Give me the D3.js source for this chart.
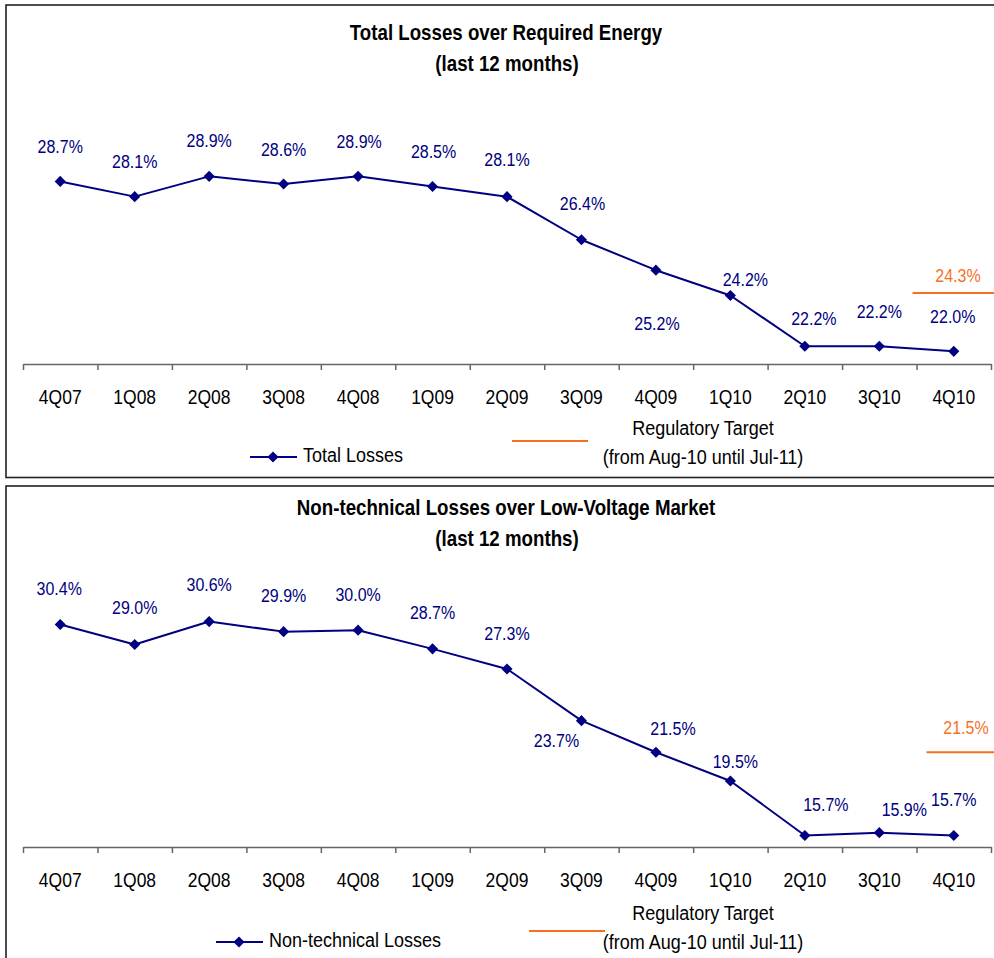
<!DOCTYPE html>
<html>
<head>
<meta charset="utf-8">
<script src="https://cdn.jsdelivr.net/npm/d3@7"></script>
<style>
  html, body { margin: 0; padding: 0; background: #fff; }
  svg { display: block; }
</style>
</head>
<body>
<svg id="chart" width="994" height="958"></svg>
<script>
// ---- data ----
const quarters = ["4Q07", "1Q08", "2Q08", "3Q08", "4Q08", "1Q09", "2Q09", "3Q09", "4Q09", "1Q10", "2Q10", "3Q10", "4Q10"];

const totalLosses = [28.7, 28.1, 28.9, 28.6, 28.9, 28.5, 28.1, 26.4, 25.2, 24.2, 22.2, 22.2, 22.0];
const totalTarget = 24.3;

const nonTechnicalLosses = [30.4, 29.0, 30.6, 29.9, 30.0, 28.7, 27.3, 23.7, 21.5, 19.5, 15.7, 15.9, 15.7];
const nonTechnicalTarget = 21.5;

const totalTitle = ["Total Losses over Required Energy", "(last 12 months)"];
const nonTechnicalTitle = ["Non-technical Losses over Low-Voltage Market", "(last 12 months)"];
const targetLegend = ["Regulatory Target", "(from Aug-10 until Jul-11)"];

// ---- label placement (offset of each value label from its marker) ----
const totalLabelOffsets = [[0, -35], [0, -35], [0, -36], [0, -35], [1, -35], [1, -35], [0, -37],
                           [1, -36], [1, 53], [15, -16], [9, -28], [0, -35], [-1, -35]];
const nonTechnicalLabelOffsets = [[-1, -36], [0, -37], [0, -37], [0, -36], [0, -36], [0, -36], [0, -36],
                                  [-25, 20], [17, -24], [5, -20], [21, -31], [25, -23], [0, -36]];

// ---- styles ----
const FONT = "'Liberation Sans', Arial, Helvetica, sans-serif";
const STRETCH = 1.14;          // glyphs are drawn slightly taller than wide
const NAVY = "#000080";
const ORANGE = "#F7701F";
const AXIS = "#666";

const svg = d3.select("#chart").style("font-family", FONT);
const fmt = d => d.toFixed(1) + "%";

function putText(g, x, y, text, opt = {}) {
  return g.append("text")
    .attr("transform", `translate(${x},${y}) scale(1,${STRETCH})`)
    .attr("dy", "0.36em")
    .attr("text-anchor", opt.anchor || "middle")
    .attr("font-size", opt.size || 16)
    .attr("font-weight", opt.weight || "normal")
    .attr("fill", opt.fill || "#000")
    .text(text);
}

function diamond(g, x, y) {
  g.append("path")
    .attr("d", d3.symbol(d3.symbolSquare, 62)())
    .attr("transform", `translate(${x},${y}) rotate(45)`)
    .attr("fill", NAVY);
}

function drawPanel(cfg) {
  const g = svg.append("g");

  // frame
  g.append("rect")
    .attr("x", 6).attr("y", cfg.top)
    .attr("width", 1010).attr("height", cfg.frameHeight)
    .attr("fill", "none").attr("stroke", "#222").attr("stroke-width", 1.6);

  // title
  putText(g, 506, cfg.titleY[0], cfg.title[0], { size: 18.7, weight: "bold" });
  putText(g, 507, cfg.titleY[1], cfg.title[1], { size: 18.7, weight: "bold" });

  const x = d3.scaleBand().domain(quarters).range([23, 991]).paddingInner(0).paddingOuter(0);
  const xEdge = d3.scaleLinear().domain([0, quarters.length]).range(x.range());
  const y = d3.scaleLinear().domain(cfg.domain).range(cfg.yRange);
  const cx = q => x(q) + x.bandwidth() / 2;

  // category axis: baseline with ticks between categories
  const axisG = g.append("g")
    .attr("transform", `translate(0,${cfg.yRange[0]})`)
    .call(d3.axisBottom(xEdge)
      .tickValues(d3.range(quarters.length + 1))
      .tickFormat("")
      .tickSize(6)
      .tickSizeOuter(0));
  axisG.select(".domain").attr("stroke", AXIS).attr("stroke-width", 1.5);
  axisG.selectAll(".tick line").attr("stroke", AXIS).attr("stroke-width", 1.5);

  // category labels centred under each band
  const labG = g.append("g")
    .attr("transform", `translate(0,${cfg.yRange[0]})`)
    .call(d3.axisBottom(x).tickSize(0).tickPadding(0));
  labG.select(".domain").remove();
  labG.selectAll(".tick text")
    .attr("y", 0)
    .attr("dy", "0.36em")
    .attr("transform", `translate(0,33) scale(1,${STRETCH})`)
    .attr("font-family", FONT)
    .attr("font-size", 17.5)
    .attr("fill", "#000");

  // series line
  const line = d3.line().x((d, i) => cx(quarters[i])).y(d => y(d));
  g.append("path")
    .datum(cfg.values)
    .attr("d", line)
    .attr("fill", "none")
    .attr("stroke", NAVY)
    .attr("stroke-width", 2)
    .attr("stroke-linejoin", "round");

  cfg.values.forEach((v, i) => diamond(g, cx(quarters[i]), y(v)));

  // value labels
  cfg.values.forEach((v, i) => {
    const [dx, dy] = cfg.offsets[i];
    putText(g, cx(quarters[i]) + dx, y(v) + dy, fmt(v), { size: 16, fill: NAVY });
  });

  // regulatory target segment over the last category
  const ty = y(cfg.target);
  g.append("line")
    .attr("x1", x(quarters[quarters.length - 1]) + cfg.targetStart).attr("x2", 1000)
    .attr("y1", ty).attr("y2", ty)
    .attr("stroke", ORANGE).attr("stroke-width", 2);
  putText(g, cfg.targetLabel[0], ty + cfg.targetLabel[1], fmt(cfg.target), { size: 16, fill: ORANGE });

  // legend
  const L = cfg.legend;
  g.append("line")
    .attr("x1", L.seriesX).attr("x2", L.seriesX + 47)
    .attr("y1", L.seriesY).attr("y2", L.seriesY)
    .attr("stroke", NAVY).attr("stroke-width", 2);
  diamond(g, L.seriesX + 23, L.seriesY);
  putText(g, L.seriesX + 53, L.seriesY - 2, cfg.seriesName, { size: 18, anchor: "start" });

  g.append("line")
    .attr("x1", L.targetX).attr("x2", L.targetX + 76)
    .attr("y1", L.targetY).attr("y2", L.targetY)
    .attr("stroke", ORANGE).attr("stroke-width", 2);
  putText(g, 703, L.textY[0], targetLegend[0], { size: 18 });
  putText(g, 703, L.textY[1], targetLegend[1], { size: 18 });
}

drawPanel({
  top: 5, frameHeight: 472.5,
  title: totalTitle, titleY: [32, 63],
  values: totalLosses, offsets: totalLabelOffsets,
  domain: [21.5, 32.7], yRange: [364, 80],
  target: totalTarget, targetStart: -4, targetLabel: [958, -18],
  seriesName: "Total Losses",
  legend: { seriesX: 250, seriesY: 457, targetX: 512, targetY: 441, textY: [428, 457] }
});

drawPanel({
  top: 486, frameHeight: 500,
  title: nonTechnicalTitle, titleY: [507, 538],
  values: nonTechnicalLosses, offsets: nonTechnicalLabelOffsets,
  domain: [14.9, 35], yRange: [847, 558.4],
  target: nonTechnicalTarget, targetStart: 10, targetLabel: [966, -25],
  seriesName: "Non-technical Losses",
  legend: { seriesX: 216, seriesY: 942, targetX: 529, targetY: 931, textY: [913, 942] }
});
</script>
</body>
</html>
